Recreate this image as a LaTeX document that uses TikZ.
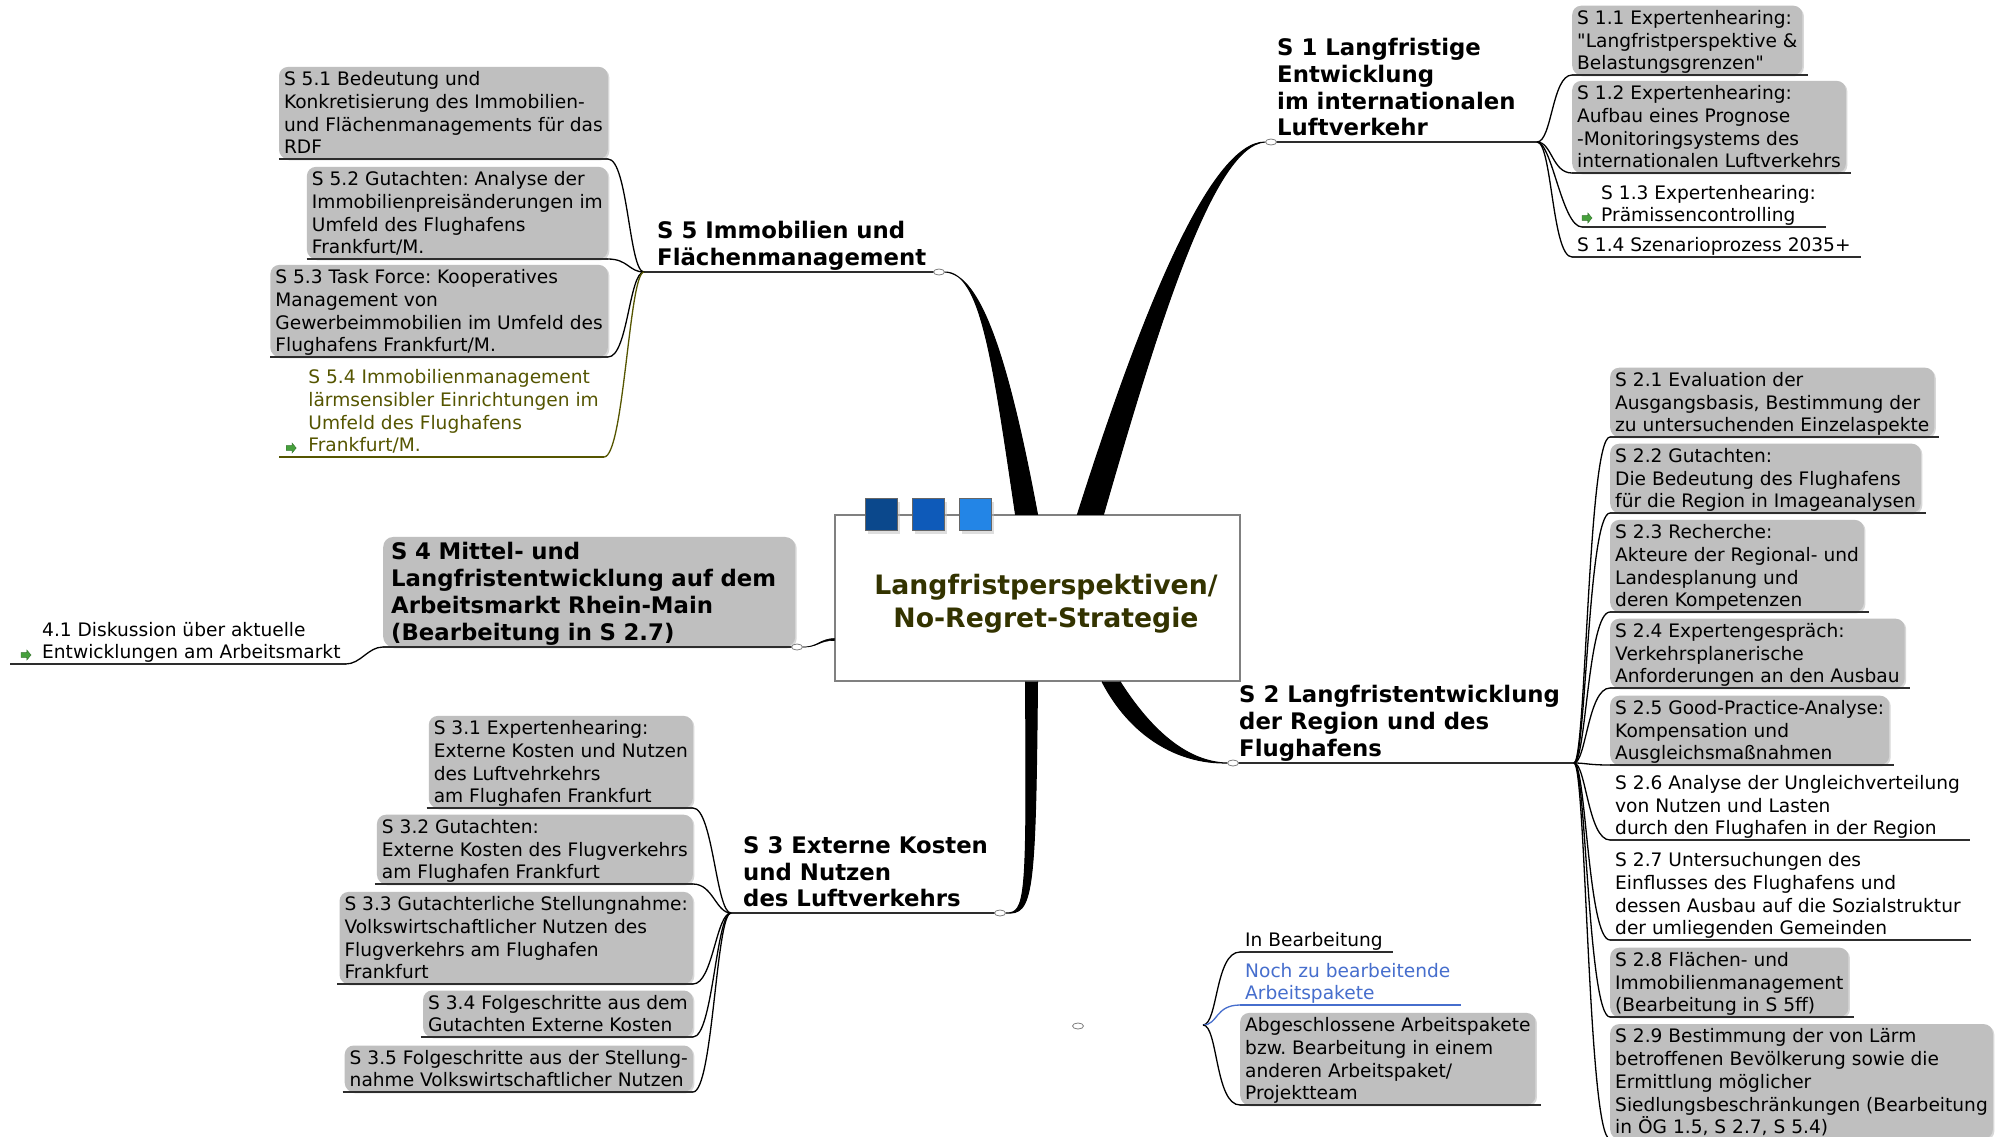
\documentclass[tikz,border=0pt]{standalone}
\usepackage{fontspec}
\setmainfont{DejaVu Sans}[Ligatures=TeXOff]
\usetikzlibrary{shapes.geometric,shapes.arrows,shadows}
\frenchspacing

\definecolor{boxgray}{RGB}{191,191,191}
\definecolor{linegray}{RGB}{45,45,45}
\definecolor{titleolive}{RGB}{51,51,0}
\definecolor{itemolive}{RGB}{85,85,0}
\definecolor{todoblue}{RGB}{70,110,205}
\definecolor{flaggreen}{RGB}{70,160,60}
\definecolor{sqa}{RGB}{11,72,140}
\definecolor{sqb}{RGB}{14,90,185}
\definecolor{sqc}{RGB}{35,133,230}

\newcommand{\itemfont}{\fontsize{18.6}{22.8}\selectfont}
\newcommand{\topicfont}{\bfseries\fontsize{22.8}{26.8}\selectfont}
\newcommand{\titlefont}{\bfseries\fontsize{26.7}{33}\selectfont}
\newcommand{\upstrut}{\rule{0pt}{18pt}}
\newcommand{\dnstrut}{\rule[-4.5pt]{0pt}{4.5pt}}

\begin{document}
\begin{tikzpicture}[x=1pt, y=-1pt,
    hub/.style={draw=gray, fill=white, line width=1.2pt, minimum width=405pt, minimum height=166pt},
    item/.style={font=\itemfont, align=left, inner xsep=5pt, inner ysep=0.5pt, rounded corners=9pt},
    done/.style={item, fill=boxgray, drop shadow={shadow xshift=1.5pt, shadow yshift=-1.5pt, fill=black!30}},
    topic/.style={font=\topicfont, align=left, inner xsep=6pt, inner ysep=1.5pt},
    uline/.style={draw=linegray, line width=2pt},
    twig/.style={line width=1.3pt},
    trunk/.style={fill=black, draw=black, line width=1pt},
    joint/.style={ellipse, draw=gray, fill=white, line width=0.8pt, minimum width=11pt, minimum height=6pt, inner sep=0pt},
    flag/.style={single arrow, fill=flaggreen, draw=flaggreen!70!black, line width=0.4pt, inner sep=1.2pt, minimum width=10pt, minimum height=10pt, single arrow head extend=1.5pt, single arrow tip angle=100},
    sq/.style={minimum size=32pt, inner sep=0pt, draw=black!60, drop shadow={shadow xshift=3pt, shadow yshift=-3pt, fill=gray!50}}]

    \path[use as bounding box, fill=white] (0,0) rectangle (2003,1136);

    \node[hub] (root) at (1037.5,598) {};
    \node[sq, fill=sqa] (q1) at (881,514.5) {};
    \node[sq, fill=sqb] (q2) at (928,514.5) {};
    \node[sq, fill=sqc] (q3) at (975,514.5) {};
    \node[font=\titlefont, text=titleolive, align=center] (title) at (1046,604) {Langfristperspektiven/\\No-Regret-Strategie};

    \coordinate (c1) at (1271,142);
    \coordinate (c2) at (1233,763);
    \coordinate (c3) at (1000,913);
    \coordinate (c4) at (797,647);
    \coordinate (c5) at (939,272);
    \coordinate (f1) at (1537,142);
    \coordinate (f2) at (1574,763);
    \coordinate (f3) at (731,913);
    \coordinate (f5) at (644,272);
    \coordinate (lf) at (1203,1025);

    \node[topic, anchor=south west] (s1) at (c1) {S 1 Langfristige\\Entwicklung\\im internationalen\\Luftverkehr\dnstrut};
    \node[topic, anchor=south west] (s2) at (c2) {S 2 Langfristentwicklung\\der Region und des\\Flughafens\dnstrut};
    \node[topic, anchor=south west] (s3) at (737,913) {S 3 Externe Kosten\\und Nutzen\\des Luftverkehrs\dnstrut};
    \node[topic, anchor=south west] (s5) at (651,272) {S 5 Immobilien und\\Flächenmanagement\dnstrut};
    \node[topic, fill=boxgray, rounded corners=10pt, text width=396pt, inner xsep=8pt, anchor=south west, drop shadow={shadow xshift=1.5pt, shadow yshift=-1.5pt, fill=black!30}] (s4) at (383,647) {\rule{0pt}{21.5pt}S 4 Mittel- und\\Langfristentwicklung auf dem\\Arbeitsmarkt Rhein-Main\\(Bearbeitung in S 2.7)\dnstrut};

    \draw[uline] (c1) -- (f1);
    \draw[uline] (c2) -- (f2);
    \draw[uline] (f3) -- (c3);
    \draw[uline] (f5) -- (c5);
    \draw[uline] (s4.south west) -- (c4);

    \node[joint] (j1) at (c1) {};
    \node[joint] (j2) at (c2) {};
    \node[joint] (j3) at (c3) {};
    \node[joint] (j4) at (c4) {};
    \node[joint] (j5) at (c5) {};
    \node[joint] (k0) at (1078,1026) {};

    \filldraw[trunk] (j5.east) .. controls +(36,0) and +(-23,-155) .. ([xshift=-22pt]root.north) -- (root.north) .. controls +(-29,-155) and +(36,2) .. (j5.east);
    \filldraw[trunk] (j1.west) .. controls +(-56,0) and +(62,-195) .. ([xshift=40pt]root.north) -- ([xshift=66pt]root.north) .. controls +(56,-195) and +(-51,3) .. (j1.west);
    \filldraw[trunk] ([xshift=-12pt]root.south) .. controls +(1.5,219) and +(20,0) .. (j3.east) .. controls +(27,2) and +(-2,215) .. (root.south);
    \filldraw[trunk] ([xshift=64.5pt]root.south) .. controls +(28,54) and +(-50,1) .. (j2.west) .. controls +(-43,-1) and +(28,44) .. ([xshift=82.5pt]root.south);
    \filldraw[trunk, line width=0.6pt] (j4.east) .. controls +(15,0) and +(-15,0.5) .. ([yshift=-40.5pt]root.west) -- ([yshift=-42.5pt]root.west) .. controls +(-15,-0.5) and +(15,0.5) .. (j4.east);

    \node[done, anchor=south west] (s11) at (1572,75) {\upstrut S 1.1 Expertenhearing:\\"Langfristperspektive \&\\Belastungsgrenzen"\dnstrut};
    \node[done, anchor=south west] (s12) at (1572,173) {\upstrut S 1.2 Expertenhearing:\\Aufbau eines Prognose\\-Monitoringsystems des\\internationalen Luftverkehrs\dnstrut};
    \node[item, anchor=south west] (s13) at (1596,227) {\upstrut S 1.3 Expertenhearing:\\Prämissencontrolling\dnstrut};
    \node[item, anchor=south west] (s14) at (1572,257) {\upstrut S 1.4 Szenarioprozess 2035+\dnstrut};
    \node[flag] (g13) at ([xshift=-10pt,yshift=9pt]s13.south west) {};

    \draw[uline] (s11.south west) -- ([xshift=5pt]s11.south east);
    \draw[uline] (s12.south west) -- ([xshift=5pt]s12.south east);
    \draw[uline] ([xshift=-14pt]s13.south west) -- ([xshift=5pt]s13.south east);
    \draw[uline] (s14.south west) -- ([xshift=5pt]s14.south east);
    \draw[twig] (f1) .. controls +(15,0) and +(-20,0) .. (s11.south west);
    \draw[twig] (f1) .. controls +(15,0) and +(-20,0) .. (s12.south west);
    \draw[twig] (f1) .. controls +(15,0) and +(-20,0) .. ([xshift=-14pt]s13.south west);
    \draw[twig] (f1) .. controls +(15,0) and +(-20,0) .. (s14.south west);

    \node[done, anchor=south west] (s21) at (1610,437) {\upstrut S 2.1 Evaluation der\\Ausgangsbasis, Bestimmung der\\zu untersuchenden Einzelaspekte\dnstrut};
    \node[done, anchor=south west] (s22) at (1610,513) {\upstrut S 2.2 Gutachten:\\Die Bedeutung des Flughafens\\für die Region in Imageanalysen\dnstrut};
    \node[done, anchor=south west] (s23) at (1610,612) {\upstrut S 2.3 Recherche:\\Akteure der Regional- und\\Landesplanung und\\deren Kompetenzen\dnstrut};
    \node[done, anchor=south west] (s24) at (1610,688) {\upstrut S 2.4 Expertengespräch:\\Verkehrsplanerische\\Anforderungen an den Ausbau\dnstrut};
    \node[done, anchor=south west] (s25) at (1610,765) {\upstrut S 2.5 Good-Practice-Analyse:\\Kompensation und\\Ausgleichsmaßnahmen\dnstrut};
    \node[item, anchor=south west] (s26) at (1610,840) {\upstrut S 2.6 Analyse der Ungleichverteilung\\von Nutzen und Lasten\\durch den Flughafen in der Region\dnstrut};
    \node[item, anchor=south west] (s27) at (1610,940) {\upstrut S 2.7 Untersuchungen des\\Einflusses des Flughafens und\\dessen Ausbau auf die Sozialstruktur\\der umliegenden Gemeinden\dnstrut};
    \node[done, anchor=south west] (s28) at (1610,1017) {\upstrut S 2.8 Flächen- und\\Immobilienmanagement\\(Bearbeitung in S 5ff)\dnstrut};
    \node[done, anchor=south west] (s29) at (1610,1139) {\upstrut S 2.9 Bestimmung der von Lärm\\betroffenen Bevölkerung sowie die\\Ermittlung möglicher\\Siedlungsbeschränkungen (Bearbeitung\\in ÖG 1.5, S 2.7, S 5.4)\dnstrut};

    \draw[uline] (s21.south west) -- ([xshift=5pt]s21.south east);
    \draw[uline] (s22.south west) -- ([xshift=5pt]s22.south east);
    \draw[uline] (s23.south west) -- ([xshift=5pt]s23.south east);
    \draw[uline] (s24.south west) -- ([xshift=5pt]s24.south east);
    \draw[uline] (s25.south west) -- ([xshift=5pt]s25.south east);
    \draw[uline] (s26.south west) -- ([xshift=5pt]s26.south east);
    \draw[uline] (s27.south west) -- ([xshift=5pt]s27.south east);
    \draw[uline] (s28.south west) -- ([xshift=5pt]s28.south east);
    \draw[twig] (f2) .. controls +(12,0) and +(-22,0) .. (s21.south west);
    \draw[twig] (f2) .. controls +(12,0) and +(-22,0) .. (s22.south west);
    \draw[twig] (f2) .. controls +(12,0) and +(-22,0) .. (s23.south west);
    \draw[twig] (f2) .. controls +(12,0) and +(-22,0) .. (s24.south west);
    \draw[twig] (f2) .. controls +(12,0) and +(-22,0) .. (s25.south west);
    \draw[twig] (f2) .. controls +(12,0) and +(-22,0) .. (s26.south west);
    \draw[twig] (f2) .. controls +(12,0) and +(-22,0) .. (s27.south west);
    \draw[twig] (f2) .. controls +(12,0) and +(-22,0) .. (s28.south west);
    \draw[twig] (f2) .. controls +(12,0) and +(-22,0) .. (s29.south west);

    \node[item, anchor=south west] (k1) at (1240,952) {\upstrut In Bearbeitung\dnstrut};
    \node[item, anchor=south west, text=todoblue] (k2) at (1240,1005) {\upstrut Noch zu bearbeitende\\Arbeitspakete\dnstrut};
    \node[done, anchor=south west] (k3) at (1240,1105) {\upstrut Abgeschlossene Arbeitspakete\\bzw. Bearbeitung in einem\\anderen Arbeitspaket/\\Projektteam\dnstrut};

    \draw[uline] (k1.south west) -- ([xshift=5pt]k1.south east);
    \draw[uline, draw=todoblue] (k2.south west) -- ([xshift=5pt]k2.south east);
    \draw[uline] (k3.south west) -- ([xshift=5pt]k3.south east);
    \draw[twig] (lf) .. controls +(15,0) and +(-25,0) .. (k1.south west);
    \draw[twig, draw=todoblue] (lf) .. controls +(15,0) and +(-25,0) .. (k2.south west);
    \draw[twig] (lf) .. controls +(15,0) and +(-25,0) .. (k3.south west);

    \node[done, anchor=south east] (s31) at (693,808) {\upstrut S 3.1 Expertenhearing:\\Externe Kosten und Nutzen\\des Luftvehrkehrs\\am Flughafen Frankfurt\dnstrut};
    \node[done, anchor=south east] (s32) at (693,884) {\upstrut S 3.2 Gutachten:\\Externe Kosten des Flugverkehrs\\am Flughafen Frankfurt\dnstrut};
    \node[done, anchor=south east] (s33) at (693,984) {\upstrut S 3.3 Gutachterliche Stellungnahme:\\Volkswirtschaftlicher Nutzen des\\Flugverkehrs am Flughafen\\Frankfurt\dnstrut};
    \node[done, anchor=south east] (s34) at (693,1037) {\upstrut S 3.4 Folgeschritte aus dem\\Gutachten Externe Kosten\dnstrut};
    \node[done, anchor=south east] (s35) at (693,1092) {\upstrut S 3.5 Folgeschritte aus der Stellung-\\nahme Volkswirtschaftlicher Nutzen\dnstrut};

    \draw[uline] ([xshift=-2pt]s31.south west) -- (s31.south east);
    \draw[uline] ([xshift=-2pt]s32.south west) -- (s32.south east);
    \draw[uline] ([xshift=-2pt]s33.south west) -- (s33.south east);
    \draw[uline] ([xshift=-2pt]s34.south west) -- (s34.south east);
    \draw[uline] ([xshift=-2pt]s35.south west) -- (s35.south east);
    \draw[twig] (f3) .. controls +(-15,0) and +(20,0) .. (s31.south east);
    \draw[twig] (f3) .. controls +(-15,0) and +(20,0) .. (s32.south east);
    \draw[twig] (f3) .. controls +(-15,0) and +(20,0) .. (s33.south east);
    \draw[twig] (f3) .. controls +(-15,0) and +(20,0) .. (s34.south east);
    \draw[twig] (f3) .. controls +(-15,0) and +(20,0) .. (s35.south east);

    \node[done, anchor=south east] (s51) at (608,159) {\upstrut S 5.1 Bedeutung und\\Konkretisierung des Immobilien-\\und Flächenmanagements für das\\RDF\dnstrut};
    \node[done, anchor=south east] (s52) at (608,259) {\upstrut S 5.2 Gutachten: Analyse der\\Immobilienpreisänderungen im\\Umfeld des Flughafens\\Frankfurt/M.\dnstrut};
    \node[done, anchor=south east] (s53) at (608,357) {\upstrut S 5.3 Task Force: Kooperatives\\Management von\\Gewerbeimmobilien im Umfeld des\\Flughafens Frankfurt/M.\dnstrut};
    \node[item, anchor=south east, text=itemolive] (s54) at (604,457) {\upstrut S 5.4 Immobilienmanagement\\lärmsensibler Einrichtungen im\\Umfeld des Flughafens\\Frankfurt/M.\dnstrut};
    \node[flag] (g54) at ([xshift=-13pt,yshift=9pt]s54.south west) {};

    \draw[uline] (s51.south west) -- (s51.south east);
    \draw[uline] (s52.south west) -- (s52.south east);
    \draw[uline] (s53.south west) -- (s53.south east);
    \draw[uline, draw=itemolive] ([xshift=-24pt]s54.south west) -- (s54.south east);
    \draw[twig] (f5) .. controls +(-15,0) and +(20,0) .. (s51.south east);
    \draw[twig] (f5) .. controls +(-15,0) and +(20,0) .. (s52.south east);
    \draw[twig] (f5) .. controls +(-15,0) and +(20,0) .. (s53.south east);
    \draw[twig, draw=itemolive] (f5) .. controls +(-15,0) and +(20,0) .. (s54.south east);

    \node[item, anchor=south west] (s41) at (37,664) {\upstrut 4.1 Diskussion über aktuelle\\Entwicklungen am Arbeitsmarkt\dnstrut};
    \node[flag] (g41) at ([xshift=-12pt,yshift=9pt]s41.south west) {};
    \draw[uline] ([xshift=-27pt]s41.south west) -- (s41.south east);
    \draw[twig] (s4.south west) .. controls +(-15,0) and +(15,0) .. (s41.south east);
\end{tikzpicture}
\end{document}
